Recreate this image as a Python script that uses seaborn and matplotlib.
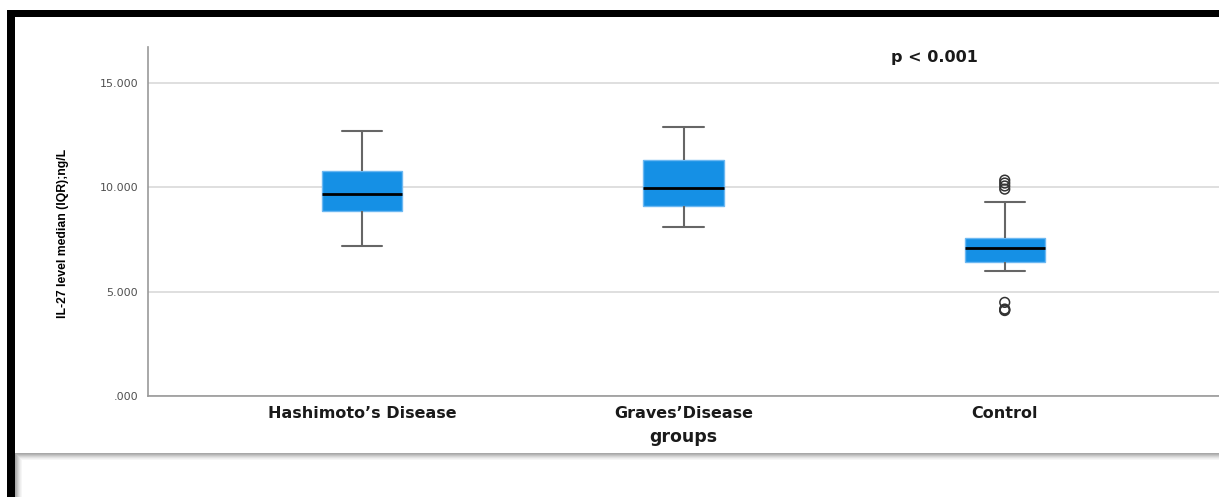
import numpy as np
import pandas as pd
import matplotlib
matplotlib.use("Agg")
import matplotlib.pyplot as plt
from matplotlib.patches import Rectangle
from matplotlib import font_manager
import seaborn as sns

# Five-number summaries of IL-27 (ng/L) per group
groups = ["Hashimoto\u2019s Disease", "Graves\u2019Disease", "Control"]
whisker_low = [7.19, 8.07, 6.00]
q1 = [8.85, 9.10, 6.40]
median = [9.65, 9.94, 7.10]
q3 = [10.77, 11.29, 7.57]
whisker_high = [12.69, 12.88, 9.30]

# Outlying observations
outlier_groups = ["Control"] * 8
outlier_values = [10.33, 10.19, 10.05, 9.90, 4.48, 4.16, 4.12, 4.09]

y_ticks = [0, 5, 10, 15]
y_tick_labels = [".000", "5.000", "10.000", "15.000"]

sns.set_style("white")
plt.rcParams["font.family"] = ["Liberation Sans", "DejaVu Sans"]

summary = pd.DataFrame({
    "groups": np.repeat(groups, 5),
    "value": np.ravel(np.column_stack([whisker_low, q1, median, q3, whisker_high])),
})
outliers = pd.DataFrame({"groups": outlier_groups, "value": outlier_values})

W, H = 1219, 497
fig = plt.figure(figsize=(W / 100, H / 100), dpi=100)
ax = fig.add_axes([148 / W, 1 - 396 / H, 1 - 148 / W, (396 - 47) / H])

box_face = "#1590E5"
sns.boxplot(
    data=summary, x="groups", y="value", order=groups, whis=(0, 100),
    width=0.25, color=box_face, linecolor="#666666", linewidth=1.5,
    boxprops=dict(facecolor=box_face, edgecolor="#6cb8f2", linewidth=1.0),
    medianprops=dict(color="black", linewidth=2.0),
    whiskerprops=dict(color="#666666", linewidth=1.5),
    capprops=dict(color="#666666", linewidth=1.5),
    ax=ax, zorder=3,
)
sns.stripplot(
    data=outliers, x="groups", y="value", order=groups, jitter=False,
    marker="o", size=7, facecolor="none", edgecolor="#333333", linewidth=1.1,
    ax=ax, zorder=4,
)
for coll in ax.collections:
    coll.set_facecolor("none")

ax.set_xlim(-0.667, 2.667)
ax.set_ylim(0, 16.7)
ax.set_yticks(y_ticks)
ax.set_yticklabels(y_tick_labels, fontsize=8, color="#505050", fontfamily="DejaVu Sans")
ax.tick_params(axis="both", length=0)
ax.tick_params(axis="y", pad=7)
ax.tick_params(axis="x", pad=7)
for lbl in ax.get_xticklabels():
    lbl.set_fontfamily("DejaVu Sans")
    lbl.set_fontweight("bold")
    lbl.set_fontsize(11.5)
    lbl.set_color("#1a1a1a")

ax.yaxis.grid(True, color="#d9d9d9", linewidth=1.2)
ax.set_axisbelow(True)
for side in ["top", "right"]:
    ax.spines[side].set_visible(False)
for side in ["left", "bottom"]:
    ax.spines[side].set_color("#999999")
    ax.spines[side].set_linewidth(1.2)

ax.set_xlabel("groups", fontfamily="DejaVu Sans", fontweight="bold",
              fontsize=12.5, color="#1a1a1a")
ax.xaxis.set_label_coords(0.5, (396 - 437) / 349)
ax.xaxis.label.set_va("center")

# Condensed face for the vertical axis title when available
installed = {f.name for f in font_manager.fontManager.ttflist}
if "Liberation Sans Narrow" in installed:
    ylab_font = dict(fontfamily="Liberation Sans Narrow", fontweight="bold", fontsize=10.5)
else:
    ylab_font = dict(fontfamily="Liberation Sans", fontweight="bold", fontsize=8.8)
ax.set_ylabel("IL-27 level median (IQR);ng/L", color="black", **ylab_font)
ax.yaxis.set_label_coords((63 - 148) / 1071, (396 - 233.5) / 349)
ax.yaxis.label.set_va("center")

ax.text(1.782, 16.2, "p < 0.001", fontfamily="DejaVu Sans", fontweight="bold",
        fontsize=11.5, ha="center", va="center", color="#1a1a1a")

# Frame: thick black border on top and left, shadowed panel at the bottom
def fig_rect(x0, y0, x1, y1, **kw):
    fig.patches.append(Rectangle((x0 / W, 1 - y1 / H), (x1 - x0) / W, (y1 - y0) / H,
                                 transform=fig.transFigure, figure=fig, **kw))

fig_rect(7, 10, W, 17, color="black", lw=0)
fig_rect(7, 10, 15, H, color="black", lw=0)
fig_rect(15, 453, W, H, color="white", lw=0)
shades = ["#a8a8a8", "#b4b4b4", "#c4c4c4", "#d4d4d4", "#e2e2e2", "#eeeeee", "#f6f6f6"]
for i, c in enumerate(shades):
    fig_rect(15 + i, 453 + i, W, 454 + i, color=c, lw=0)
    fig_rect(15 + i, 453 + i, 16 + i, H, color=c, lw=0)

fig.savefig("out.png", dpi=100)
